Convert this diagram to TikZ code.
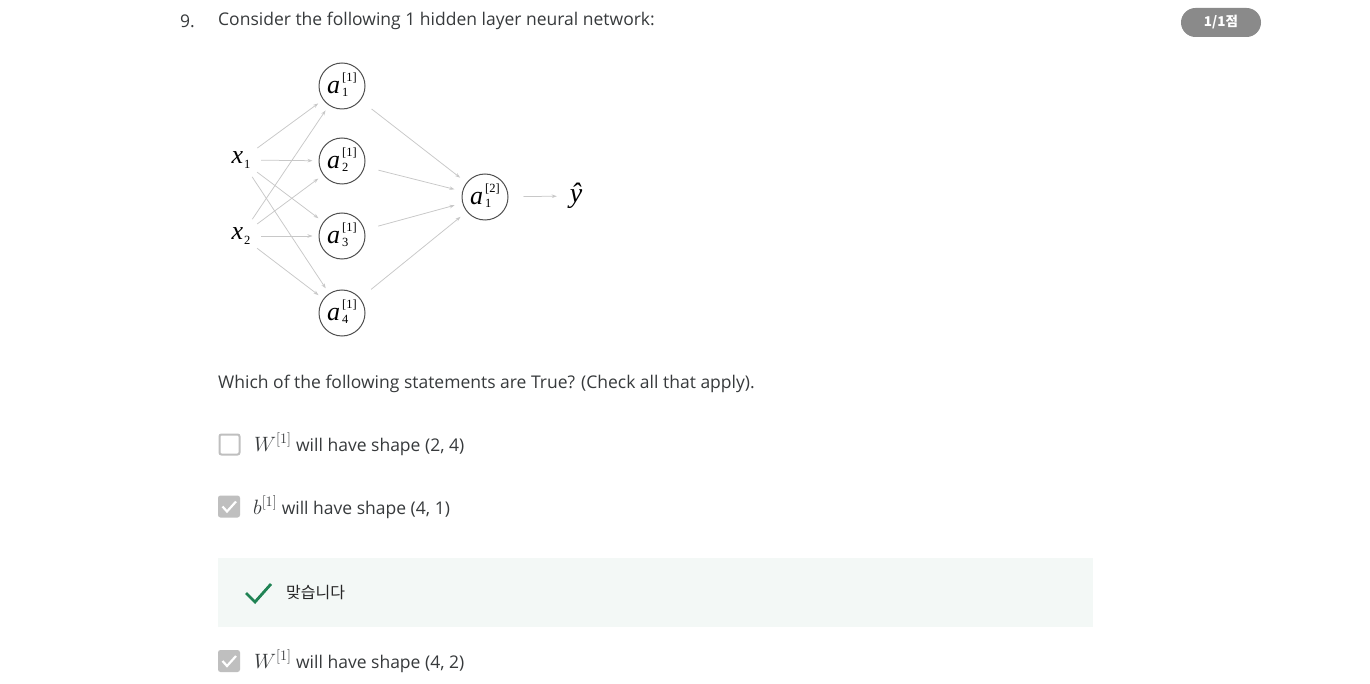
\documentclass[tikz,border=0pt]{standalone}
\usepackage{fontspec}
\setmainfont{Open Sans}
\newfontfamily\kofont{Noto Sans CJK KR}
\newfontfamily\nnfont{Liberation Serif}
\usetikzlibrary{arrows.meta}

\definecolor{qtext}{HTML}{373A3C}
\definecolor{edgegray}{HTML}{C8C8C8}
\definecolor{nodegray}{HTML}{505050}
\definecolor{boxgray}{HTML}{BFBFBF}
\definecolor{badgegray}{HTML}{8A8A8A}
\definecolor{okgreen}{HTML}{1F8354}
\definecolor{okbg}{HTML}{F3F8F6}

% stacked index and layer number, set apart so that they do not touch
\newcommand{\nnsmall}{\nnfont\fontsize{12.5}{14.5}\selectfont}
\newcommand{\nnvar}[3]{\textit{#1}\hspace{2pt}\raisebox{-3pt}{\nnsmall\begin{tabular}[b]{@{}l@{}}#3\\#2\end{tabular}}}
\newcommand{\nnin}[2]{\textit{#1}\hspace{1pt}\raisebox{-5pt}{\nnsmall #2}}
\newcommand{\kmath}[1]{{\fontsize{21}{21}\selectfont$#1$}}

\tikzset{
	neuron/.style={draw=nodegray, circle, line width=1pt, minimum size=46pt, inner sep=0pt, font=\nnfont\fontsize{26}{26}\selectfont},
	input/.style={circle, minimum size=40pt, inner sep=0pt, font=\nnfont\fontsize{26}{26}\selectfont},
	edge/.style={-{Stealth[length=5pt,width=3.5pt]}, draw=edgegray, line width=0.75pt},
	inedge/.style={edge, shorten >=6pt},
	outedge/.style={edge, shorten <=14pt, shorten >=8pt},
	qline/.style={inner sep=0pt, text=qtext, font=\fontsize{17.5}{20}\selectfont},
	kline/.style={inner sep=0pt, text=black!85, font=\kofont\fontsize{16}{18}\selectfont},
	badge/.style={fill=badgegray, text=white, rounded corners=14.5pt, minimum width=80pt, minimum height=29pt, inner sep=0pt, font=\kofont\bfseries\fontsize{13.5}{15}\selectfont},
	emptybox/.style={draw=boxgray, line width=2pt, fill=white, rounded corners=2pt, minimum size=20pt, inner sep=0pt},
	fullbox/.style={fill=boxgray, rounded corners=2.5pt, minimum size=22pt, inner sep=0pt},
}

\begin{document}
\begin{tikzpicture}[x=1pt, y=-1pt]
		\useasboundingbox[fill=white] (0,0) rectangle (1370,684);
		
		\node[qline, anchor=west] (num) at (180,21) {9.};
		\node[qline, anchor=west] (question) at (218,21) {Consider the following 1 hidden layer neural network:};
		\node[badge] (score) at (1221,22.5) {1/1점};
		
		\node[input] (x1) at (241,160) {\nnin{x}{1}};
		\node[input] (x2) at (241,236) {\nnin{x}{2}};
		\node[neuron] (h1) at (342,86) {\nnvar{a}{1}{[1]}};
		\node[neuron] (h2) at (342,161) {\nnvar{a}{2}{[1]}};
		\node[neuron] (h3) at (342,236) {\nnvar{a}{3}{[1]}};
		\node[neuron] (h4) at (342,313) {\nnvar{a}{4}{[1]}};
		\node[neuron] (o) at (485,197) {\nnvar{a}{1}{[2]}};
		\node[input, minimum size=38pt, font=\nnfont\fontsize{28}{28}\selectfont] (y) at (576,196) {\textit{\^y}};
		
		\draw[inedge] (x1) to (h1);
		\draw[inedge] (x1) to (h2);
		\draw[inedge] (x1) to (h3);
		\draw[inedge] (x1) to (h4);
		\draw[inedge] (x2) to (h1);
		\draw[inedge] (x2) to (h2);
		\draw[inedge] (x2) to (h3);
		\draw[inedge] (x2) to (h4);
		\draw[outedge] (h1) to (o);
		\draw[outedge] (h2) to (o);
		\draw[outedge] (h3) to (o);
		\draw[outedge] (h4) to (o);
		\draw[edge, shorten <=15pt] (o) to (y);
		
		\node[qline, anchor=west] (ask) at (218,384) {Which of the following statements are True? (Check all that apply).};
		
		\node[emptybox] (box1) at (229.5,444.5) {};
		\node[qline, anchor=west] (opt1) at (254,444) {\kmath{W^{[1]}} will have shape (2, 4)};
		
		\node[fullbox] (box2) at (229,506.5) {};
		\draw[white, line width=2.2pt] ([shift={(-6.5,0)}]box2.center) -- ++(4.5,5) -- ++(9,-10);
		\node[qline, anchor=west] (opt2) at (253,507) {\kmath{b^{[1]}} will have shape (4, 1)};
		
		\fill[okbg] (218,558) rectangle (1093,627);
		\draw[okgreen, line width=2.8pt] (246,593) -- (255,602) -- (271,584);
		\node[kline, anchor=west] (feedback) at (286,592.5) {맞습니다};
		
		\node[fullbox] (box3) at (229,661) {};
		\draw[white, line width=2.2pt] ([shift={(-6.5,0)}]box3.center) -- ++(4.5,5) -- ++(9,-10);
		\node[qline, anchor=west] (opt3) at (254,661) {\kmath{W^{[1]}} will have shape (4, 2)};
		
	\end{tikzpicture}
\end{document}
